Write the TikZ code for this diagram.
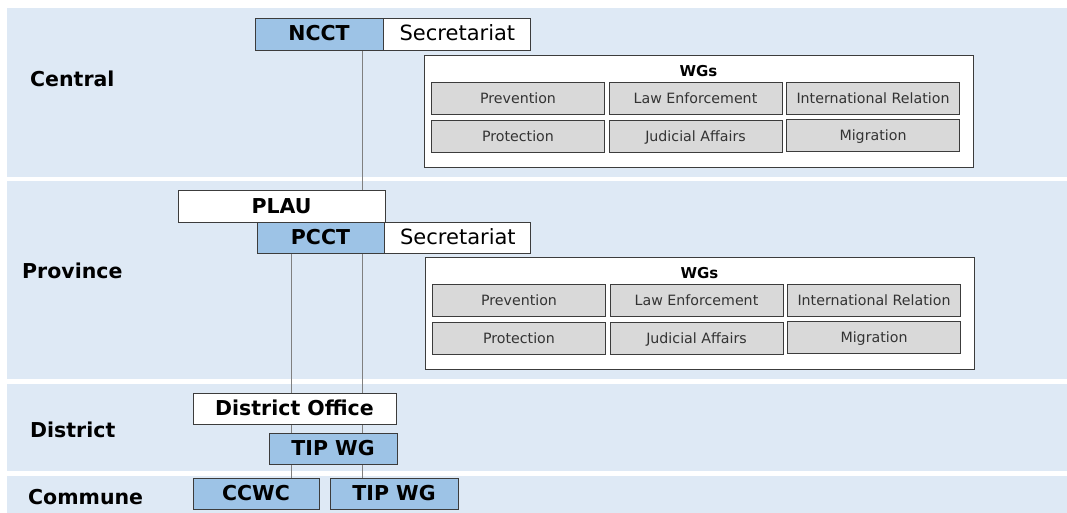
\documentclass[tikz,border=0pt]{standalone}
\usepackage{fontspec}
\setmainfont{DejaVu Sans}
\usetikzlibrary{positioning}
\usetikzlibrary{backgrounds}
\definecolor{bandblue}{RGB}{222,233,245}
\definecolor{boxblue}{RGB}{157,195,230}
\definecolor{cellgray}{RGB}{217,217,217}
\definecolor{edgegray}{RGB}{60,60,60}
\definecolor{linkgray}{RGB}{128,128,128}

\begin{document}
\begin{tikzpicture}[x=1pt,y=-1pt,
unit/.style={draw=edgegray,line width=0.9pt,minimum height=32pt,inner sep=0pt,
  text height=14pt,text depth=0pt,font=\fontsize{20.5}{24}\selectfont\bfseries},
blueunit/.style={unit,fill=boxblue},
whiteunit/.style={unit,fill=white},
secbox/.style={unit,fill=white,font=\fontsize{21}{24}\selectfont},
level/.style={anchor=west,inner sep=0pt,font=\fontsize{20.5}{24}\selectfont\bfseries},
wgframe/.style={draw=edgegray,line width=0.9pt,fill=white,anchor=north west,
  minimum width=549pt,minimum height=112pt,inner sep=0pt},
wgtitle/.style={inner sep=0pt,font=\fontsize{15}{18}\selectfont\bfseries},
wgcell/.style={draw=edgegray,line width=0.9pt,fill=cellgray,minimum width=173pt,
  minimum height=32pt,inner sep=0pt,text height=10pt,text depth=0pt,
  text=black!80,font=\fontsize{14.2}{17}\selectfont},
link/.style={draw=linkgray,line width=0.9pt}]
\useasboundingbox (0,0) rectangle (1067,513);

% level bands
\begin{pgfonlayer}{background}
\fill[white] (0,0) rectangle (1067,513);
\fill[bandblue] (7,8) rectangle (1067,177);
\fill[bandblue] (7,181) rectangle (1067,379);
\fill[bandblue] (7,384) rectangle (1067,471);
\fill[bandblue] (7,476) rectangle (1067,513);
\end{pgfonlayer}

\node[level] (central) at (30,79) {Central};
\node[level] (province) at (22,271) {Province};
\node[level] (district) at (30,430) {District};
\node[level] (commune) at (28,497) {Commune};

% central
\node[blueunit,minimum width=128pt] (ncct) at (319,34) {NCCT};
\node[secbox,minimum width=147pt,right=0pt of ncct] (nsec) {Secretariat};

% province
\node[whiteunit,minimum width=207pt] (plau) at (281.5,206) {PLAU};
\node[blueunit,minimum width=127pt,minimum height=31pt] (pcct) at (320.5,237.5) {PCCT};
\node[secbox,minimum width=146pt,minimum height=31pt,right=0pt of pcct] (psec) {Secretariat};

% working groups
\foreach \lv/\dx/\dy in {cen/0/0,pro/1/202}{
  \node[wgframe] (\lv-wgs) at (424+\dx,55+\dy) {};
  \node[wgtitle] (\lv-title) at (698.5+\dx,71+\dy) {WGs};
  \node[wgcell] (\lv-prev) at (518+\dx,98.5+\dy) {Prevention};
  \node[wgcell] (\lv-law) at (695.5+\dx,98.5+\dy) {Law Enforcement};
  \node[wgcell] (\lv-intl) at (873+\dx,98.5+\dy) {International Relation};
  \node[wgcell] (\lv-prot) at (518+\dx,136.5+\dy) {Protection};
  \node[wgcell] (\lv-jud) at (695.5+\dx,136.5+\dy) {Judicial Affairs};
  \node[wgcell] (\lv-mig) at (873+\dx,135.5+\dy) {Migration};
}

% district and commune
\node[whiteunit,minimum width=203pt,minimum height=31pt] (doffice) at (294.5,408.5) {District Office};
\node[blueunit,minimum width=128pt,minimum height=31pt] (dtip) at (333,448.5) {TIP WG};
\node[blueunit,minimum width=126pt,minimum height=31pt] (ccwc) at (256,493.5) {CCWC};
\node[blueunit,minimum width=128pt,minimum height=31pt] (ctip) at (394,493.5) {TIP WG};

% reporting lines, behind the boxes
\coordinate (trunk) at (362,0);
\coordinate (branch) at (291,0);
\begin{pgfonlayer}{background}
\draw[link] (ncct.south -| trunk) -- (ctip.north -| trunk);
\draw[link] (pcct.south -| branch) -- (ccwc.north -| branch);
\end{pgfonlayer}
\end{tikzpicture}
\end{document}
